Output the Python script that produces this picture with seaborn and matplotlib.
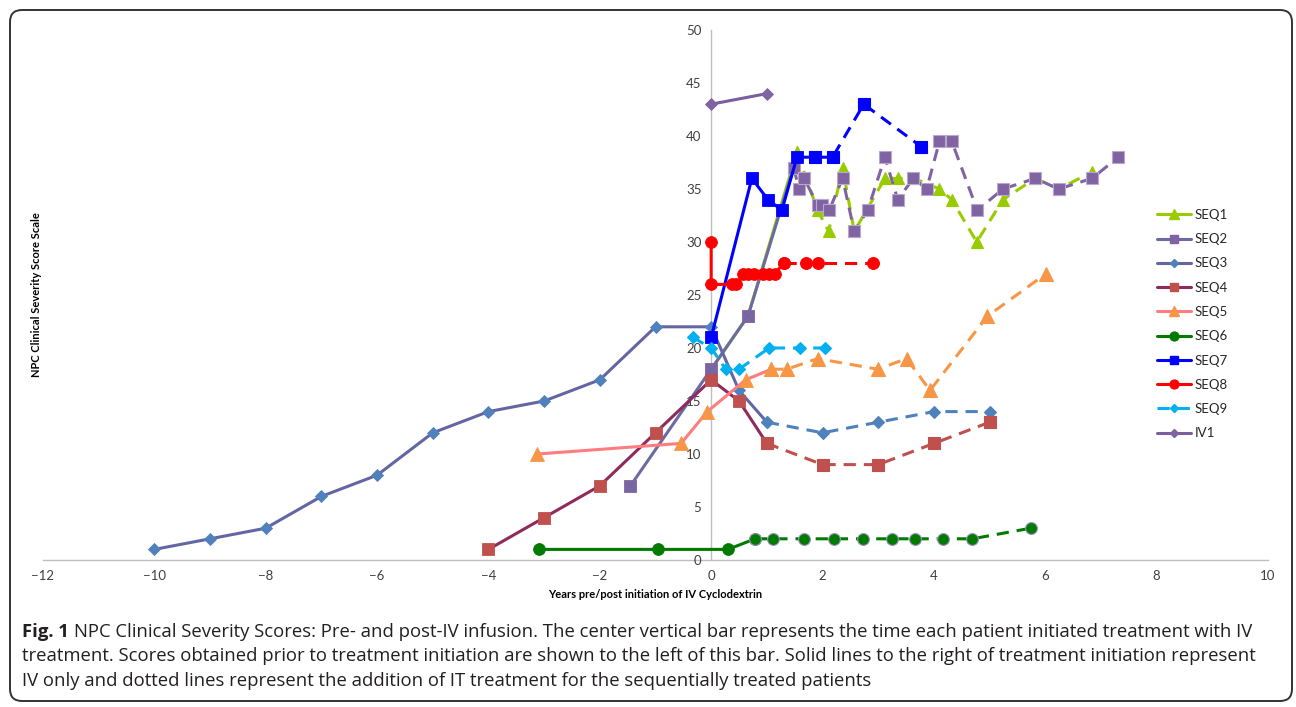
import seaborn as sns
from matplotlib import pyplot as plt
from matplotlib.lines import Line2D
from matplotlib.patches import FancyBboxPatch

# data: x = years from IV start, y = severity score
# *_split = index of the point where the dashed (IV + IT) part begins
seq1_x = [0, 0.66, 1.54, 1.91, 2.11, 2.36, 2.57, 3.12, 3.35, 3.64, 4.10, 4.32, 4.77, 5.24, 5.82, 6.24, 6.84]
seq1_y = [18, 23, 38.5, 33, 31, 37, 31, 36, 36, 36, 35, 34, 30, 34, 36, 35, 36.6]
seq1_split = 2

seq2_x = [-1.45, 0, 0.66, 1.48, 1.58, 1.67, 1.91, 1.99, 2.12, 2.36, 2.57, 2.81, 3.12, 3.35,
          3.63, 3.87, 4.10, 4.32, 4.78, 5.24, 5.82, 6.24, 6.84, 7.31]
seq2_y = [7, 18, 23, 37, 35, 36, 33.5, 33.5, 33, 36, 31, 33, 38, 34,
          36, 35, 39.5, 39.5, 33, 35, 36, 35, 36, 38]
seq2_split = 3

seq3_x = [-10, -9, -8, -7, -6, -5, -4, -3, -2, -1, 0, 0.5, 1, 2, 3, 4, 5]
seq3_y = [1, 2, 3, 6, 8, 12, 14, 15, 17, 22, 22, 16, 13, 12, 13, 14, 14]
seq3_split = 12

seq4_x = [-4, -3, -2, -1, 0, 0.5, 1, 2, 3, 4, 5]
seq4_y = [1, 4, 7, 12, 17, 15, 11, 9, 9, 11, 13]
seq4_split = 6

seq5_x = [-3.12, -0.54, -0.07, 0.62, 1.08, 1.36, 1.91, 2.99, 3.51, 3.93, 4.96, 6.01]
seq5_y = [10, 11, 14, 17, 18, 18, 19, 18, 19, 16, 23, 27]
seq5_split = 4

seq6_x = [-3.1, -0.95, 0.3, 0.79, 1.11, 1.67, 2.2, 2.72, 3.25, 3.66, 4.17, 4.69, 5.74]
seq6_y = [1, 1, 1, 2, 2, 2, 2, 2, 2, 2, 2, 2, 3]
seq6_split = 3

seq7_x = [0, 0.73, 1.02, 1.27, 1.54, 1.86, 2.18, 2.74, 3.77]
seq7_y = [21, 36, 34, 33, 38, 38, 38, 43, 39]
seq7_split = 5

seq8_x = [0, 0, 0.37, 0.45, 0.58, 0.67, 0.76, 0.93, 1.03, 1.14, 1.30, 1.71, 1.91, 2.91]
seq8_y = [30, 26, 26, 26, 27, 27, 27, 27, 27, 27, 28, 28, 28, 28]
seq8_split = 10

seq9_x = [-0.33, 0, 0.26, 0.5, 1.04, 1.6, 2.05]
seq9_y = [21, 20, 18, 18, 20, 20, 20]
seq9_split = 0

iv1_x = [0, 1]
iv1_y = [43, 44]
iv1_split = 1

labels = ["SEQ1", "SEQ2", "SEQ3", "SEQ4", "SEQ5", "SEQ6", "SEQ7", "SEQ8", "SEQ9", "IV1"]

caption_bold = "Fig. 1"
caption_1 = ("NPC Clinical Severity Scores: Pre- and post-IV infusion. The center vertical bar "
             "represents the time each patient initiated treatment with IV")
caption_2 = ("treatment. Scores obtained prior to treatment initiation are shown to the left of this bar. "
             "Solid lines to the right of treatment initiation represent")
caption_3 = "IV only and dotted lines represent the addition of IT treatment for the sequentially treated patients"

sns.set_style("white")
plt.rcParams["font.family"] = ["Lato", "DejaVu Sans"]

fig = plt.figure(figsize=(12.96, 7.07), dpi=100)
ax = fig.add_axes([43 / 1296, 147 / 707, 1225 / 1296, 530 / 707])

DASH = (0, (4, 2.6))
LW = 2.2

# (x, y, split, solid line colour, dashed line colour, marker, marker colour, size, dashed marker edge)
styles = [
    (seq1_x, seq1_y, seq1_split, "#99CC00", "#99CC00", "^", "#99CC00", 9, None),
    (seq2_x, seq2_y, seq2_split, "#6B6BA3", "#8064A2", "s", "#8064A2", 8.5, "#B8A8D0"),
    (seq3_x, seq3_y, seq3_split, "#6366A3", "#4F81BD", "D", "#4F81BD", 6, None),
    (seq4_x, seq4_y, seq4_split, "#8E2B5C", "#C0504D", "s", "#C0504D", 8.5, None),
    (seq5_x, seq5_y, seq5_split, "#FF7C80", "#F79646", "^", "#F79646", 9.5, None),
    (seq6_x, seq6_y, seq6_split, "#007A00", "#007A00", "o", "#007A00", 8.5, "#9C8FC0"),
    (seq7_x, seq7_y, seq7_split, "#0000FF", "#0000FF", "s", "#0000FF", 8.5, None),
    (seq8_x, seq8_y, seq8_split, "#FF0000", "#FF0000", "o", "#FF0000", 8.5, None),
    (seq9_x, seq9_y, seq9_split, "#00B0F0", "#00B0F0", "D", "#00B0F0", 6, None),
    (iv1_x, iv1_y, iv1_split, "#7A5FA0", "#7A5FA0", "D", "#8064A2", 6, None),
]

for xs, ys, split, c_solid, c_dash, mk, mc, ms, edge in styles:
    if split > 0:
        sns.lineplot(x=xs[:split + 1], y=ys[:split + 1], estimator=None, sort=False,
                     color=c_solid, lw=LW, marker=mk, markersize=ms,
                     markerfacecolor=mc, markeredgecolor=mc, markeredgewidth=0.6, ax=ax)
    if split < len(xs) - 1:
        sns.lineplot(x=xs[split:], y=ys[split:], estimator=None, sort=False,
                     color=c_dash, lw=LW, linestyle=DASH, marker=mk, markersize=ms,
                     markerfacecolor=mc, markeredgecolor=edge or mc, markeredgewidth=0.8, ax=ax)

# the pre-IV SEQ2 squares carry a cross
sns.scatterplot(x=seq2_x[:seq2_split], y=seq2_y[:seq2_split], marker="x", s=45,
                color="#6B6BA3", linewidth=1.2, ax=ax, zorder=5)

ax.set_xlim(-12, 10)
ax.set_ylim(0, 50)
ax.set_xticks(range(-12, 11, 2))
ax.set_yticks(range(0, 51, 5))
ax.spines["left"].set_position(("data", 0))
for s in ["top", "right"]:
    ax.spines[s].set_visible(False)
for s in ["left", "bottom"]:
    ax.spines[s].set_color("#BFBFBF")
    ax.spines[s].set_linewidth(1)
    ax.spines[s].set_zorder(0)
ax.tick_params(length=0, labelsize=9.5, colors="#404040", pad=7)
ax.set_facecolor("none")

ax.set_xlabel("Years pre/post initiation of IV Cyclodextrin", fontsize=8, fontweight="bold", color="#000000")
ax.xaxis.set_label_coords(0.5, -0.055)
ax.set_ylabel("NPC Clinical Severity Score Scale", fontsize=8, fontweight="bold", color="#000000")
ax.yaxis.set_label_coords(-0.001, 0.5)

handles = []
for (xs, ys, split, c_solid, c_dash, mk, mc, ms, edge), lab in zip(styles, labels):
    ls = DASH if split == 0 else "-"
    handles.append(Line2D([], [], color=c_solid, lw=LW, linestyle=ls, marker=mk,
                          markersize=ms * 0.75, markerfacecolor=mc, markeredgecolor=mc, label=lab))
ax.legend(handles=handles, loc="center left", bbox_to_anchor=(0.909, 0.445), frameon=False,
          borderaxespad=0, borderpad=0, handlelength=2.6, handletextpad=0.3,
          labelspacing=0.93, fontsize=9.5)

# caption and frame of the figure panel
cap_font = ["Open Sans", "DejaVu Sans"]
cap_size = 13.3
t0 = fig.text(22 / 1296, 1 - 632 / 707, caption_bold, fontsize=cap_size, fontweight="bold",
              family=cap_font, va="center", color="#231F20")
renderer = fig.canvas.get_renderer()
x_next = t0.get_window_extent(renderer).x1 + 5
fig.text(x_next / 1296, 1 - 632 / 707, caption_1, fontsize=cap_size,
         family=cap_font, va="center", color="#231F20")
fig.text(22 / 1296, 1 - 656 / 707, caption_2, fontsize=cap_size,
         family=cap_font, va="center", color="#231F20")
fig.text(22 / 1296, 1 - 681 / 707, caption_3, fontsize=cap_size,
         family=cap_font, va="center", color="#231F20")

frame = FancyBboxPatch((0.10, 0.06), 12.82, 6.91, boxstyle="round,pad=0,rounding_size=0.12",
                       transform=fig.dpi_scale_trans, fill=False, edgecolor="#333333", lw=1.4)
fig.patches.append(frame)

fig.savefig("out.png", dpi=100)
